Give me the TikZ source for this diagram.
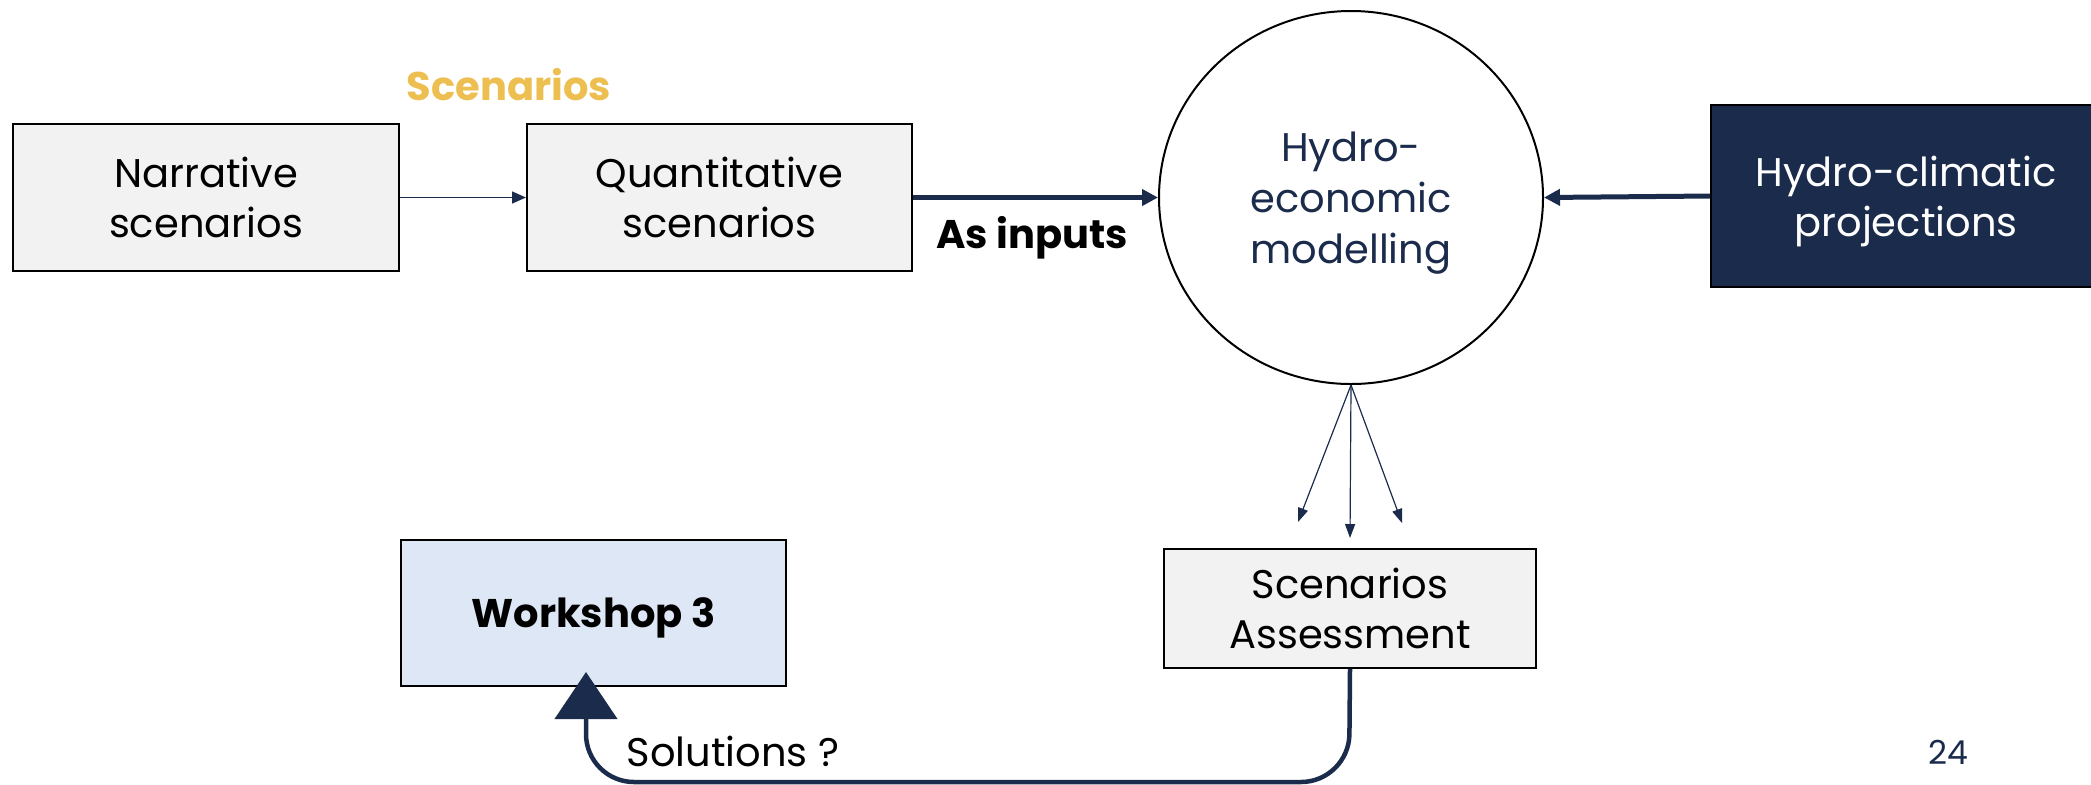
\documentclass[tikz,border=0pt]{standalone}
\usepackage{fontspec}
\setmainfont{Poppins}
\usetikzlibrary{arrows.meta,shapes.geometric}
\definecolor{navy}{HTML}{1B2B4B}
\definecolor{boxgrey}{HTML}{F2F2F2}
\definecolor{wsblue}{HTML}{DEE7F5}
\definecolor{gold}{HTML}{EDBE50}
\newcommand{\mlines}[2]{\raisebox{#1}[\height][\depth]{\begin{tabular}{@{}c@{}}#2\end{tabular}}}
\tikzset{
  txt/.style={font=\fontsize{20}{25}\selectfont, align=center},
  greybox/.style={txt, draw=black, line width=1pt, fill=boxgrey, inner sep=0pt},
  thinarrow/.style={draw=navy, line width=0.75pt, -{Triangle[length=7pt,width=6pt]}},
  thickarrow/.style={draw=navy, line width=2.5pt, -{Triangle[length=8pt,width=8pt]}},
  fanarrow/.style={draw=navy, line width=0.6pt, -{Triangle[length=7pt,width=5pt]}},
  solarrow/.style={draw=navy, line width=2.25pt, rounded corners=24pt, -{Triangle[length=23.5pt,width=31pt]}},
}
\begin{document}
\begin{tikzpicture}[x=0.5pt,y=-0.5pt]
\useasboundingbox (0,0) rectangle (2091,784);
% nodes
\node[greybox, minimum width=193pt, minimum height=73.5pt] (nar) at (206,197.5) {Narrative\\scenarios};
\node[greybox, minimum width=192.5pt, minimum height=73.5pt] (quant) at (719.5,197.5) {Quantitative\\scenarios};
\node[ellipse, draw=black, line width=1pt, fill=white, text=navy, inner sep=0pt,
      font=\fontsize{20}{25.5}\selectfont,
      minimum width=192pt, minimum height=186.5pt] (hem) at (1351,197.5) {\mlines{-2.6pt}{Hydro-\\economic\\modelling}};
\node[draw=black, line width=1pt, fill=navy, text=white, inner sep=0pt,
      font=\fontsize{20}{25}\selectfont,
      minimum width=195pt, minimum height=91pt] (hcp) at (1906,196) {\mlines{-2.8pt}{Hydro-climatic\\projections}};
\node[draw=black, line width=1pt, fill=wsblue, inner sep=0pt,
      minimum width=192.5pt, minimum height=73pt, font=\fontsize{20}{25}\selectfont\bfseries] (ws) at (593.5,613) {\raisebox{-2.5pt}[\height][\depth]{Workshop 3}};
\node[greybox, minimum width=186pt, minimum height=59.5pt] (sa) at (1350,608.5) {Scenarios\\Assessment};
% labels
\node[txt, anchor=base, text=gold, font=\fontsize{20}{25}\selectfont\bfseries] (lscen) at (509,100) {Scenarios};
\node[txt, anchor=base, font=\fontsize{20}{25}\selectfont\bfseries] (linputs) at (1032,248) {As inputs};
\node[txt, anchor=base] (lsol) at (733,766) {Solutions ?};
\node[anchor=base, text=navy, font=\fontsize{16.5}{20}\selectfont] (pnum) at (1948,764) {24};
% coordinates
\coordinate (f1) at (1298,522);
\coordinate (f2) at (1350,538);
\coordinate (f3) at (1402,523);
\coordinate (c1) at (1349,782);
\coordinate (c2) at (586,782);
\coordinate (solend) at (586,672);
% connectors
\draw[thinarrow] (nar.east) -- (quant.west);
\draw[thickarrow] (quant.east) -- (hem.west);
\draw[thickarrow] (hcp.west) -- (hem.east);
\draw[fanarrow] (hem.south) -- (f1);
\draw[fanarrow] (hem.south) -- (f2);
\draw[fanarrow] (hem.south) -- (f3);
\draw[solarrow] (sa.south) -- (c1) -- (c2) -- (solend);
\end{tikzpicture}
\end{document}
